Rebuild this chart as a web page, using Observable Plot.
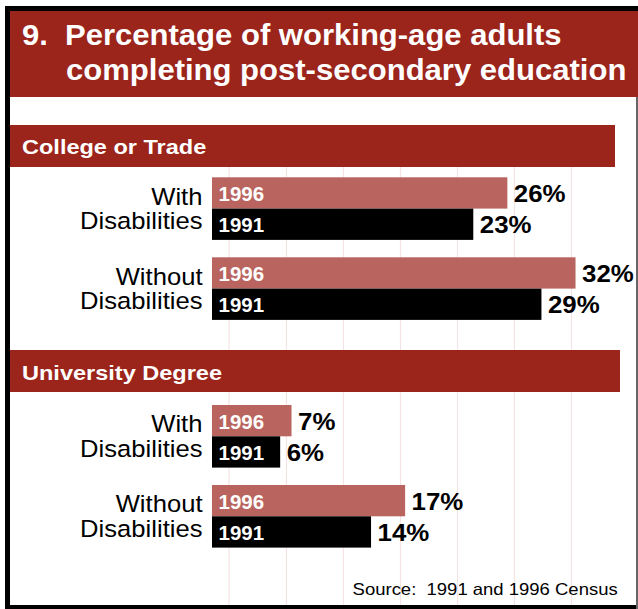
<!DOCTYPE html>
<html>
<head>
<meta charset="utf-8">
<script src="https://cdn.jsdelivr.net/npm/d3@7"></script>
<script src="https://cdn.jsdelivr.net/npm/@observablehq/plot@0.6"></script>
<style>
html, body { margin: 0; padding: 0; background: #fff; overflow: hidden; }
#root { position: relative; width: 638px; height: 609px; font-family: "Liberation Sans", Arial, sans-serif; }
.blk { position: absolute; z-index: 4; }
.band { position: absolute; background: #9b241b; z-index: 2; }
.t { position: absolute; white-space: nowrap; color: #fff; font-weight: bold; transform-origin: left center; transform: scaleX(1.12); z-index: 3; }
.tt { transform: scaleX(1.07); }
.src { position: absolute; white-space: nowrap; color: #000; transform-origin: right center; transform: scaleX(1.12); z-index: 3; }
</style>
</head>
<body>
<div id="root">
  <div class="band" style="left:10px;top:11px;width:628px;height:86px;"></div>
  <div class="t tt" style="left:22px;top:21px;font-size:29px;line-height:29px;">9.</div>
  <div class="t tt" style="left:65px;top:21px;font-size:29px;line-height:29px;">Percentage of working-age adults</div>
  <div class="t tt" style="left:66px;top:56px;font-size:29px;line-height:29px;">completing post-secondary education</div>

  <div class="band" style="left:10px;top:125px;width:605px;height:41.7px;"></div>
  <div class="t" style="left:21.5px;top:135.5px;font-size:21px;line-height:21px;">College or Trade</div>

  <div class="band" style="left:10px;top:350px;width:610px;height:41.7px;"></div>
  <div class="t" style="left:21.5px;top:362.2px;font-size:21px;line-height:21px;">University Degree</div>

  <div class="src" style="right:20px;top:581px;font-size:16.5px;line-height:16.5px;">Source:&nbsp; 1991 and 1996 Census</div>

  <div class="blk" style="left:5px;top:6px;width:5px;height:603px;background:#000;"></div>
  <div class="blk" style="left:5px;top:6px;width:633px;height:5px;background:#000;"></div>
  <div class="blk" style="left:5px;top:605px;width:633px;height:4px;background:#000;"></div>
  <div class="blk" style="left:636px;top:97px;width:1.5px;height:512px;background:#666;"></div>
</div>
<script>
const groups = ["With\nDisabilities", "Without\nDisabilities"];
const years = ["1996", "1991"];
const college1996 = [26, 32];
const college1991 = [23, 29];
const university1996 = [7, 17];
const university1991 = [6, 14];
const gridlines = [1.46, 6.51, 11.53, 16.55, 21.57, 26.58, 31.6];

const BAR = 31.3, GAP = 17.4;
const C96 = "#b9645e", C91 = "#000000", GRID = "#f5e3e3";
// horizontal stretch per text mark, in mark order: year96, year91, pct96, pct91, category
const STRETCH = [1.05, 1.05, 1.1, 1.1, 1.09];

function section(v96, v91, top, height, yTop) {
  const rows = groups.map((g, i) => ({group: g, a: v96[i], b: v91[i]}));
  const svg = Plot.plot({
    width: 638,
    height,
    marginTop: 0, marginBottom: 0, marginLeft: 0, marginRight: 0,
    style: {background: "transparent", fontFamily: "'Liberation Sans', Arial, sans-serif", overflow: "visible"},
    x: {domain: [0, 37.5], range: [212, 638], axis: null},
    y: {domain: groups, range: [yTop, yTop + 4 * BAR + GAP], paddingInner: GAP / (2 * BAR + GAP), paddingOuter: 0, round: false, axis: null},
    marks: [
      Plot.ruleX(gridlines, {x: d => d, stroke: GRID, strokeWidth: 1.2}),
      Plot.barX(rows, {x: "a", y: "group", fill: C96, insetBottom: BAR}),
      Plot.barX(rows, {x: "b", y: "group", fill: C91, insetTop: BAR}),
      Plot.text(rows, {x: () => 0, y: "group", text: () => years[0], dx: 6, dy: -BAR / 2 + 1.5, textAnchor: "start", fill: "#fff", fontWeight: "bold", fontSize: 19.5}),
      Plot.text(rows, {x: () => 0, y: "group", text: () => years[1], dx: 6, dy: BAR / 2 + 1.5, textAnchor: "start", fill: "#fff", fontWeight: "bold", fontSize: 19.5}),
      Plot.text(rows, {x: "a", y: "group", text: d => d.a + "%", dx: 6, dy: -BAR / 2 + 1, textAnchor: "start", fill: "#000", fontWeight: "bold", fontSize: 23.5}),
      Plot.text(rows, {x: "b", y: "group", text: d => d.b + "%", dx: 6, dy: BAR / 2 + 1, textAnchor: "start", fill: "#000", fontWeight: "bold", fontSize: 23.5}),
      Plot.text(rows, {x: () => 0, y: "group", text: "group", dx: -10, dy: 0, textAnchor: "end", lineHeight: 1.04, fill: "#000", fontSize: 23.5})
    ]
  });
  svg.querySelectorAll('g[aria-label="text"]').forEach((g, k) => {
    const s = STRETCH[k] || 1.08;
    g.querySelectorAll("text").forEach(t => {
      const tr = t.getAttribute("transform");
      if (tr) t.setAttribute("transform", tr + ` scale(${s},1)`);
      else {
        const x = +(t.getAttribute("x") || 0);
        t.setAttribute("transform", `translate(${x},0) scale(${s},1) translate(${-x},0)`);
      }
    });
  });
  svg.style.position = "absolute";
  svg.style.left = "0px";
  svg.style.top = top + "px";
  svg.style.zIndex = "1";
  document.getElementById("root").appendChild(svg);
}

section(college1996, college1991, 167, 183, 10.3);
section(university1996, university1991, 392, 213, 13);
</script>
</body>
</html>
